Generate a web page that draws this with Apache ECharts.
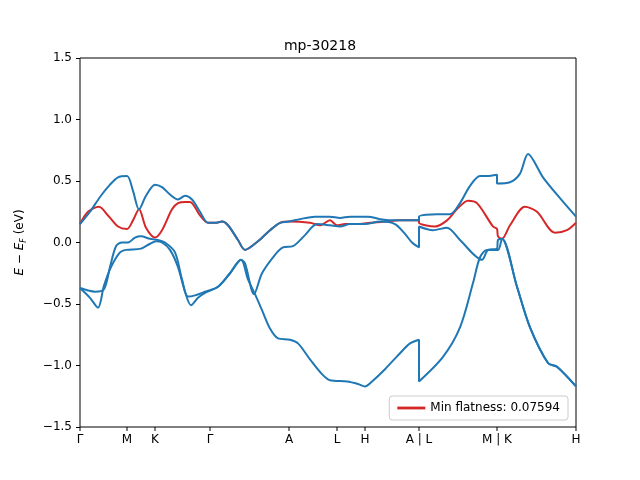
<!DOCTYPE html>
<html>
<head>
<meta charset="utf-8">
<script src="https://cdn.jsdelivr.net/npm/echarts@6/dist/echarts.min.js"></script>
<style>html,body{margin:0;background:#fff}#chart{width:640px;height:480px}</style>
</head>
<body>
<div id="chart"></div>
<script>
// high-symmetry points along the k-path
const tickPos = [0, 0.47, 0.75, 1.30, 2.09, 2.57, 2.85, 3.39, 4.17, 4.96];
const tickLabels = ['Γ', 'M', 'K', 'Γ', 'A', 'L', 'H', 'A | L', 'M | K', 'H'];
const yTicks = [-1.5, -1.0, -0.5, 0.0, 0.5, 1.0, 1.5];

// bands: [k, E - Ef]
const bandTop = [[0,0.15],[0.10,0.25],[0.20,0.37],[0.30,0.47],[0.38,0.53],[0.47,0.54],[0.53,0.42],[0.59,0.27],[0.66,0.38],[0.75,0.47],[0.82,0.45],[0.90,0.39],[0.98,0.35],[1.05,0.38],[1.12,0.35],[1.20,0.25],[1.28,0.16],[1.35,0.16],[1.42,0.17],[1.48,0.14],[1.58,0.02],[1.65,-0.06],[1.78,0.01],[1.90,0.10],[2.00,0.16],[2.09,0.17],[2.20,0.19],[2.35,0.21],[2.50,0.21],[2.60,0.20],[2.70,0.21],[2.88,0.21],[3.00,0.19],[3.10,0.18],[3.39,0.18],[3.39,0.21],[3.57,0.23],[3.70,0.23],[3.80,0.32],[3.90,0.46],[4.00,0.54],[4.07,0.54],[4.17,0.55],[4.17,0.48],[4.30,0.49],[4.40,0.56],[4.48,0.72],[4.63,0.53],[4.80,0.36],[4.96,0.21]];
const bandFlat = [[0,0.15],[0.08,0.25],[0.19,0.29],[0.28,0.22],[0.38,0.13],[0.47,0.11],[0.53,0.18],[0.59,0.27],[0.66,0.12],[0.75,0.04],[0.82,0.10],[0.92,0.27],[0.98,0.32],[1.05,0.33],[1.10,0.33],[1.20,0.22],[1.28,0.16],[1.35,0.16],[1.42,0.17],[1.48,0.14],[1.58,0.02],[1.65,-0.06],[1.78,0.01],[1.90,0.10],[2.00,0.16],[2.09,0.17],[2.30,0.16],[2.40,0.14],[2.50,0.18],[2.57,0.14],[2.65,0.15],[2.80,0.15],[2.90,0.16],[3.05,0.17],[3.20,0.18],[3.39,0.18],[3.39,0.16],[3.55,0.13],[3.67,0.18],[3.78,0.28],[3.88,0.34],[3.97,0.32],[4.13,0.13],[4.17,0.11],[4.18,0.05],[4.22,0.03],[4.30,0.14],[4.45,0.29],[4.57,0.25],[4.75,0.08],[4.87,0.10],[4.96,0.16]];
const bandMid = [[0,-0.37],[0.08,-0.39],[0.15,-0.40],[0.24,-0.38],[0.30,-0.2],[0.36,-0.03],[0.42,0.0],[0.48,0.0],[0.55,0.04],[0.61,0.05],[0.70,0.03],[0.78,0.02],[0.85,0.0],[0.95,-0.08],[1.02,-0.30],[1.08,-0.44],[1.15,-0.43],[1.25,-0.40],[1.38,-0.36],[1.50,-0.25],[1.61,-0.14],[1.65,-0.17],[1.74,-0.42],[1.82,-0.25],[1.95,-0.10],[2.03,-0.04],[2.13,-0.03],[2.25,0.06],[2.37,0.15],[2.50,0.14],[2.60,0.13],[2.70,0.15],[2.85,0.15],[3.00,0.17],[3.15,0.15],[3.25,0.07],[3.32,0.0],[3.39,-0.04],[3.39,0.13],[3.53,0.10],[3.67,0.12],[3.80,0.02],[4.02,-0.14],[4.08,-0.06],[4.17,-0.05],[4.18,0.02],[4.22,0.03],[4.37,-0.36],[4.50,-0.69],[4.68,-0.98],[4.77,-1.01],[4.96,-1.17]];
const bandLow = [[0,-0.37],[0.10,-0.45],[0.18,-0.53],[0.24,-0.35],[0.31,-0.2],[0.40,-0.08],[0.46,-0.06],[0.61,-0.05],[0.70,-0.01],[0.76,0.01],[0.82,0.0],[0.90,-0.06],[0.98,-0.2],[1.05,-0.4],[1.11,-0.51],[1.18,-0.45],[1.25,-0.41],[1.38,-0.36],[1.50,-0.25],[1.61,-0.14],[1.68,-0.3],[1.75,-0.42],[1.82,-0.55],[1.90,-0.70],[1.98,-0.78],[2.10,-0.79],[2.18,-0.82],[2.30,-0.95],[2.42,-1.07],[2.50,-1.12],[2.67,-1.13],[2.78,-1.15],[2.85,-1.17],[2.92,-1.13],[3.05,-1.03],[3.20,-0.90],[3.30,-0.82],[3.39,-0.79],[3.39,-1.13],[3.63,-0.93],[3.80,-0.69],[3.93,-0.33],[4.00,-0.12],[4.07,-0.06],[4.18,-0.06],[4.22,0.03],[4.37,-0.36],[4.50,-0.69],[4.68,-0.98],[4.77,-1.01],[4.96,-1.17]];

const BLUE = '#1f77b4';
const RED = '#d62728';
const FONT = 'DejaVu Sans';

const chart = echarts.init(document.getElementById('chart'));

function band(name, data, color, z) {
    return {
        name: name,
        type: 'line',
        data: data,
        smooth: 0.3,
        smoothMonotone: 'none',
        showSymbol: false,
        z: z,
        lineStyle: {color: color, width: 2},
        itemStyle: {color: color},
        animation: false
    };
}

chart.setOption({
    animation: false,
    title: {
        text: 'mp-30218', left: 'center', top: 34,
        textStyle: {fontFamily: FONT, fontSize: 14, fontWeight: 'normal', color: '#000'}
    },
    grid: {left: 80, right: 64, top: 58, bottom: 53, show: true, borderColor: '#000', borderWidth: 1},
    legend: {
        data: [{name: 'Min flatness: 0.07594', icon: 'path://M0,0L30,0L30,3L0,3Z'}],
        right: 72, bottom: 60, itemWidth: 28, itemHeight: 3,
        padding: [6, 8], borderColor: '#ccc', borderWidth: 1, borderRadius: 3,
        textStyle: {fontFamily: FONT, fontSize: 12, color: '#000'}
    },
    xAxis: {
        type: 'value', min: 0, max: 4.96,
        axisLine: {show: false}, axisTick: {show: false}, axisLabel: {show: false}, splitLine: {show: false}
    },
    yAxis: {
        type: 'value', min: -1.5, max: 1.5, interval: 0.5,
        name: '{i|E} − {i|E}{s|F} (eV)', nameLocation: 'middle', nameGap: 52, nameRotate: 90,
        nameTextStyle: {
            fontFamily: FONT, fontSize: 12, color: '#000',
            rich: {i: {fontStyle: 'italic', fontFamily: FONT, fontSize: 12}, s: {fontStyle: 'italic', fontFamily: FONT, fontSize: 8, verticalAlign: 'bottom', padding: [8, 0, 0, 0]}}
        },
        axisLine: {show: false},
        axisTick: {show: true, length: 4, lineStyle: {color: '#000'}},
        axisLabel: {fontFamily: FONT, fontSize: 12, color: '#000', margin: 8,
            formatter: v => (v < 0 ? '\u2212' : '') + Math.abs(v).toFixed(1)},
        splitLine: {show: false}
    },
    series: [
        band('Min flatness: 0.07594', bandFlat, RED, 2),
        band('b1', bandTop, BLUE, 3),
        band('b3', bandMid, BLUE, 3),
        band('b4', bandLow, BLUE, 3),
        {
            type: 'custom',
            data: tickPos.map((p, i) => [p, i]),
            clip: false,
            silent: true,
            z: 5,
            renderItem: (params, api) => {
                const pt = api.coord([api.value(0), -1.5]);
                return {
                    type: 'group',
                    children: [
                        {type: 'line', shape: {x1: pt[0], y1: pt[1], x2: pt[0], y2: pt[1] + 4}, style: {stroke: '#000', lineWidth: 1}},
                        {type: 'text', x: pt[0], y: pt[1] + 7, style: {text: tickLabels[api.value(1)], fontFamily: FONT, fontSize: 12, fill: '#000', align: 'center', verticalAlign: 'top'}}
                    ]
                };
            }
        }
    ]
});
</script>
</body>
</html>
